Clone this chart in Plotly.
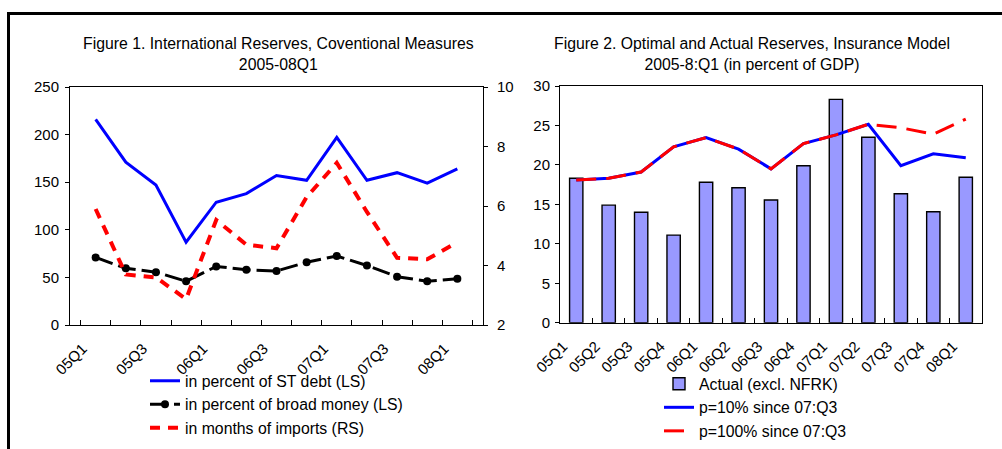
import plotly.graph_objects as go

W, H = 1002, 449

quarters = ["05Q1", "05Q2", "05Q3", "05Q4", "06Q1", "06Q2", "06Q3", "06Q4",
            "07Q1", "07Q2", "07Q3", "07Q4", "08Q1"]
# Figure 1 tick labels (every other quarter labelled)
fig1_ticktext = ["05Q1", "", "05Q3", "", "06Q1", "", "06Q3", "", "07Q1", "", "07Q3", "", "08Q1"]

# Figure 1 series
st_debt = [216, 171, 147, 87, 129, 138, 157, 152, 197, 152, 160, 149, 164]
broad_money = [71, 59.5, 55.5, 46, 61.5, 58, 56.7, 66, 72.5, 62.5, 50.7, 46, 48.5]
months_imports = [5.9, 3.7, 3.6, 2.87, 5.53, 4.7, 4.58, 6.3, 7.45, 5.8, 4.26, 4.21, 4.78]

# Figure 2 series
actual = [18.3, 14.9, 14.0, 11.1, 17.8, 17.1, 15.55, 19.9, 28.3, 23.5, 16.35, 14.07, 18.43]
p10 = [18.1, 18.3, 19.1, 22.3, 23.45, 22.0, 19.5, 22.7, 23.8, 25.15, 19.9, 21.4, 20.9]
p100 = [18.1, 18.3, 19.1, 22.3, 23.45, 22.0, 19.5, 22.7, 23.8, 25.15, 24.7, 23.9, 25.8]

FONT = "Arial, Liberation Sans, sans-serif"
TXT = 15.8
TICK = 15

fig = go.Figure()

# ---- Figure 1 ----
fig.add_trace(go.Scatter(x=quarters, y=st_debt, mode="lines", name="in percent of ST debt (LS)",
                         line=dict(color="#0000FF", width=3), xaxis="x", yaxis="y", legend="legend"))
fig.add_trace(go.Scatter(x=quarters, y=broad_money, mode="lines+markers",
                         name="in percent of broad money (LS)",
                         line=dict(color="#000000", width=3, dash="18px,6px"),
                         marker=dict(color="#000000", size=8, symbol="circle"),
                         xaxis="x", yaxis="y", legend="legend"))
fig.add_trace(go.Scatter(x=quarters, y=months_imports, mode="lines", name="in months of imports (RS)",
                         line=dict(color="#FF0000", width=4, dash="10px,8px"),
                         xaxis="x", yaxis="y2", legend="legend"))

# ---- Figure 2 ----
fig.add_trace(go.Bar(x=quarters, y=actual, name="Actual (excl. NFRK)",
                     marker=dict(color="#9999FF", line=dict(color="#000000", width=1.4)),
                     xaxis="x3", yaxis="y3", legend="legend2"))
fig.add_trace(go.Scatter(x=quarters, y=p10, mode="lines", name="p=10% since 07:Q3",
                         line=dict(color="#0000FF", width=3), xaxis="x3", yaxis="y3", legend="legend2"))
fig.add_trace(go.Scatter(x=quarters, y=p100, mode="lines", name="p=100% since 07:Q3",
                         line=dict(color="#FF0000", width=3, dash="20px,10px"),
                         xaxis="x3", yaxis="y3", legend="legend2"))

axis_common = dict(showgrid=False, zeroline=False, showline=True, linecolor="#000000", linewidth=1,
                   tickfont=dict(family=FONT, size=TICK, color="#000000"), tickcolor="#000000",
                   automargin=False)
xlab = dict(ticklabelshift=-13, ticklabelstandoff=8)

fig.update_layout(
    width=W, height=H, margin=dict(l=0, r=0, t=0, b=0, pad=0, autoexpand=False),
    paper_bgcolor="#FFFFFF", plot_bgcolor="#FFFFFF",
    font=dict(family=FONT, size=TXT, color="#000000"),
    bargap=0.59,
    xaxis=dict(domain=[70 / W, 483 / W], anchor="y", type="category",
               tickmode="array", tickvals=quarters, ticktext=fig1_ticktext,
               tickson="boundaries", ticks="inside", ticklen=5, tickangle=-45,
               mirror=True, **xlab, **axis_common),
    yaxis=dict(domain=[1 - 325 / H, 1 - 87 / H], anchor="x", range=[0, 250], dtick=50,
               ticks="outside", ticklen=4, ticklabelstandoff=3, **axis_common),
    yaxis2=dict(overlaying="y", side="right", anchor="x", range=[2, 10], dtick=2,
                ticks="outside", ticklen=4, ticklabelstandoff=6, **axis_common),
    xaxis3=dict(domain=[560 / W, 982 / W], anchor="y3", type="category",
                tickson="boundaries", ticks="inside", ticklen=5, tickangle=-45,
                mirror=True, **xlab, **axis_common),
    yaxis3=dict(domain=[1 - 322.7 / H, 1 - 86 / H], anchor="x3", range=[0, 30], dtick=5,
                ticks="outside", ticklen=4, ticklabelstandoff=2, mirror=True, **axis_common),
    legend=dict(x=145 / W, y=1 - 364 / H, xanchor="left", yanchor="top",
                bgcolor="rgba(0,0,0,0)", font=dict(family=FONT, size=TXT, color="#000000"),
                traceorder="normal"),
    legend2=dict(x=659 / W, y=1 - 367 / H, xanchor="left", yanchor="top",
                 bgcolor="rgba(0,0,0,0)", font=dict(family=FONT, size=TXT, color="#000000"),
                 traceorder="normal"),
    annotations=[
        dict(text="Figure 1. International Reserves, Coventional Measures<br>2005-08Q1",
             x=278 / W, y=1 - 54 / H, xref="paper", yref="paper", showarrow=False,
             xanchor="center", yanchor="middle", font=dict(family=FONT, size=TXT, color="#000000")),
        dict(text="Figure 2. Optimal and Actual Reserves, Insurance Model<br>2005-8:Q1 (in percent of GDP)",
             x=752 / W, y=1 - 54 / H, xref="paper", yref="paper", showarrow=False,
             xanchor="center", yanchor="middle", font=dict(family=FONT, size=TXT, color="#000000")),
    ],
    shapes=[
        dict(type="line", xref="paper", yref="paper", x0=8 / W, x1=1.0, y0=1 - 13.5 / H, y1=1 - 13.5 / H,
             line=dict(color="#000000", width=3)),
        dict(type="line", xref="paper", yref="paper", x0=8.5 / W, x1=8.5 / W, y0=0, y1=1 - 12 / H,
             line=dict(color="#000000", width=3)),
    ],
)

fig.write_html("out.html", config={"displayModeBar": False},
               post_script="document.body.style.margin='0px';")
